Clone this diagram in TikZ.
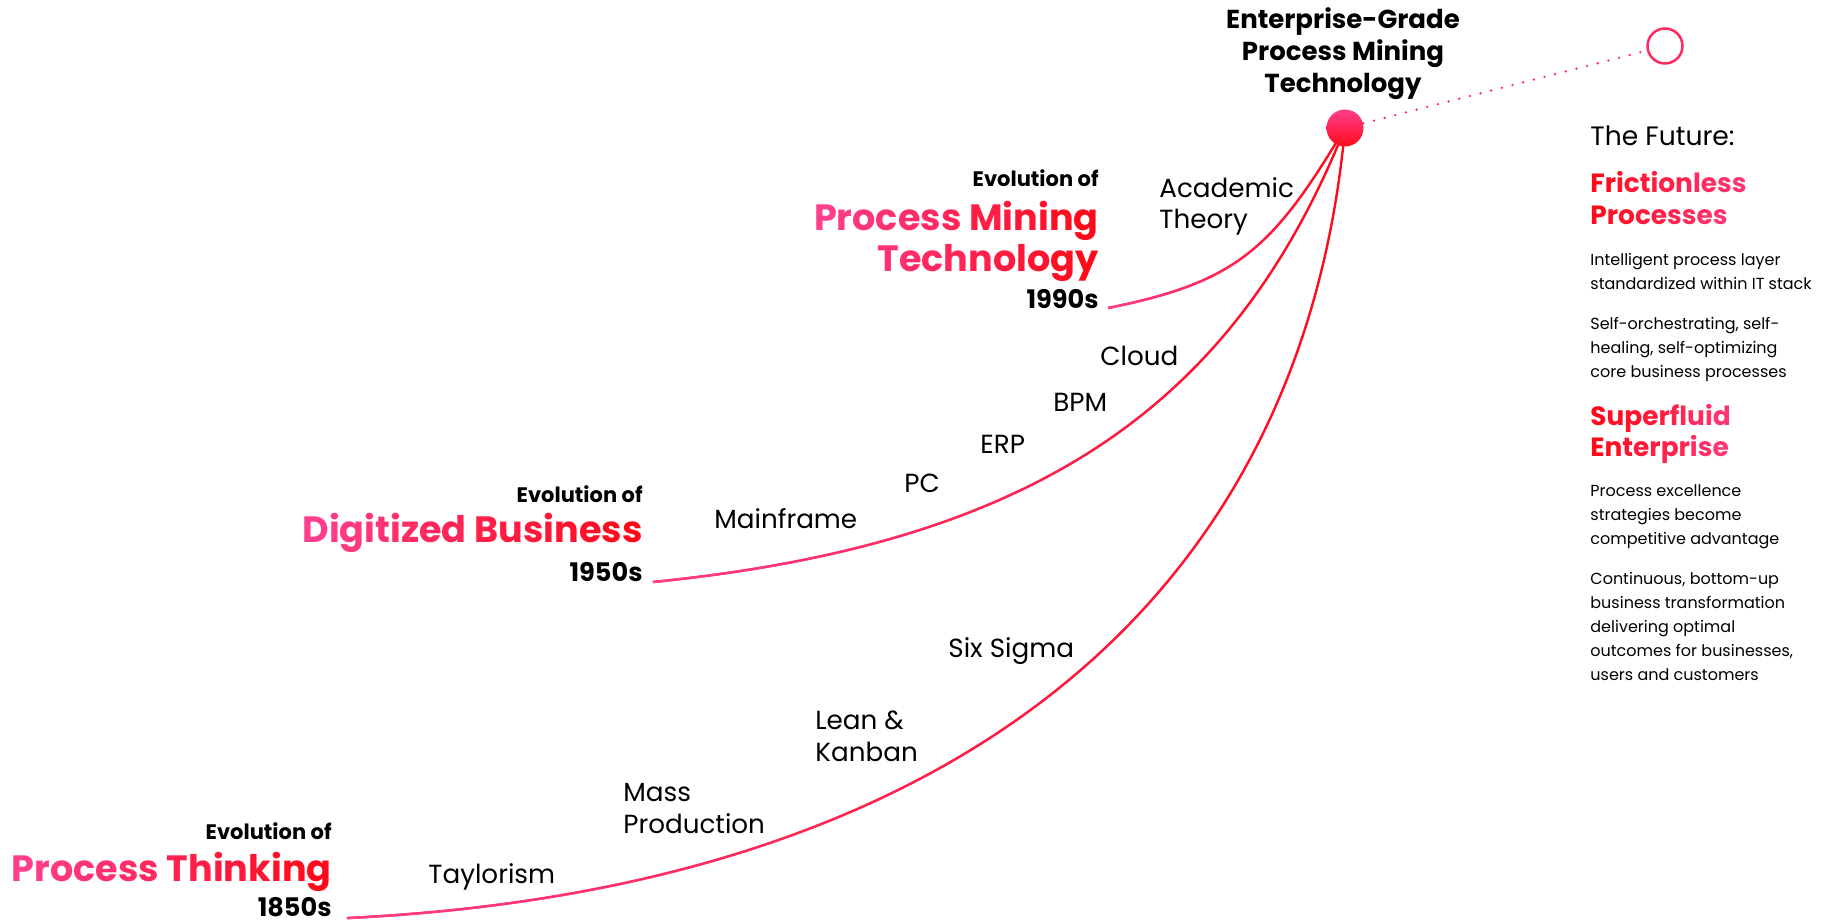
\documentclass[tikz,border=0pt]{standalone}
\usepackage{fontspec}
\setmainfont{Poppins}
\usetikzlibrary{fadings}
\definecolor{pinkA}{HTML}{FF3E8E}
\definecolor{pinkB}{HTML}{FF3572}
\definecolor{redA}{HTML}{FF0A1A}
\definecolor{dotcol}{HTML}{FF2A5E}
\colorlet{techstart}{redA!22!pinkA}
\tikzfading[name=fadeR, left color=transparent!0, right color=transparent!100]
\ExplSyntaxOn
\int_new:N \l_gt_n_int
\int_new:N \l_gt_i_int
\NewDocumentCommand \gradtext { m m m }
  {
    \int_set:Nn \l_gt_n_int { \str_count:n {#3} - 1 }
    \int_compare:nNnT \l_gt_n_int < 1 { \int_set:Nn \l_gt_n_int {1} }
    \int_zero:N \l_gt_i_int
    \str_map_inline:nn {#3}
      {
        \str_if_eq:nnTF {##1} {~}
          { \c_space_tl }
          {
            \exp_args:Ne \color { #2 ! \int_eval:n { 100 * \l_gt_i_int / \l_gt_n_int } ! #1 }
            \relax ##1
          }
        \int_incr:N \l_gt_i_int
      }
  }
\ExplSyntaxOff
\tikzset{
  ev/.style={font=\fontsize{10.5}{12}\selectfont\bfseries, anchor=base east, inner sep=0pt},
  head/.style={font=\fontsize{18.3}{22}\selectfont\bfseries, anchor=base east, inner sep=0pt},
  yr/.style={font=\fontsize{12.8}{15}\selectfont\bfseries, anchor=base east, inner sep=0pt},
  ms/.style={font=\fontsize{13.1}{16}\selectfont, anchor=base west, inner sep=0pt},
  fut/.style={font=\fontsize{13.3}{16}\selectfont, anchor=base west, inner sep=0pt},
  fh/.style={font=\fontsize{13.2}{16}\selectfont\bfseries, anchor=base west, inner sep=0pt},
  sm/.style={font=\fontsize{8}{12}\selectfont, anchor=base west, inner sep=0pt},
  eg/.style={font=\fontsize{13}{16}\selectfont\bfseries, anchor=base, inner sep=0pt},
  curve/.style={line width=1.2pt, redA},
  curvefade/.style={line width=1.2pt, pinkA, path fading=fadeR},
}
\begin{document}
\begin{tikzpicture}[x=0.5pt, y={(0pt,-0.5pt)}]
\fill[white] (0,0) rectangle (1821,924);
\useasboundingbox (0,0) rectangle (1821,924);

% --- 1850s group
\node[ev] (ev1) at (332,839) {Evolution of};
\node[head] (h1) at (332,881) {\gradtext{pinkA}{redA}{Process Thinking}};
\node[yr] (y1) at (332,916) {1850s};
% --- 1950s group
\node[ev] (ev2) at (643,503) {Evolution of};
\node[head] (h2) at (643,543) {\gradtext{pinkA}{redA}{Digitized Business}};
\node[yr] (y2) at (643,582) {1950s};
% --- 1990s group
\node[ev] (ev3) at (1099,187) {Evolution of};
\node[head] (h3a) at (1099,231) {\gradtext{pinkA}{redA}{Process Mining}};
\node[head] (h3b) at (1099,272) {\gradtext{techstart}{redA}{Technology}};
\node[yr] (y3) at (1099,309) {1990s};

% --- milestones
\node[ms] (tay) at (428,883) {Taylorism};
\node[ms] (mass1) at (623,801) {Mass};
\node[ms] (mass2) at (623,833) {Production};
\node[ms] (lean1) at (815,730) {Lean \&};
\node[ms] (lean2) at (815,762) {Kanban};
\node[ms] (six) at (948,658) {Six Sigma};
\node[ms] (mf) at (714,529) {Mainframe};
\node[ms] (pc) at (904,493) {PC};
\node[ms] (erp) at (980,454) {ERP};
\node[ms] (bpm) at (1053,412) {BPM};
\node[ms] (cloud) at (1100,366) {Cloud};
\node[ms] (ac1) at (1159,198) {Academic};
\node[ms] (ac2) at (1159,229) {Theory};

% --- title
\node[eg] (t1) at (1343,29) {Enterprise-Grade};
\node[eg] (t2) at (1343,61) {Process Mining};
\node[eg] (t3) at (1343,93) {Technology};

% --- curves
\coordinate (s1) at (347,918);
\coordinate (s2) at (653,582);
\coordinate (s3) at (1108,308);
\coordinate (dotc) at (1345,128);
\draw[curve] (s1) .. controls (930,890) and (1300,620) .. (dotc);
\draw[curvefade] (s1) .. controls (930,890) and (1300,620) .. (dotc);
\draw[curve] (s2) .. controls (1033,544) and (1233,408) .. (dotc);
\draw[curvefade] (s2) .. controls (1033,544) and (1233,408) .. (dotc);
\draw[curve] (s3) .. controls (1238,282) and (1273,248) .. (dotc);
\draw[curvefade] (s3) .. controls (1238,282) and (1273,248) .. (dotc);

% --- dot and ring
\node[circle, inner sep=0pt, minimum size=18.5pt, top color=pinkA, bottom color=redA, draw=none] (dot) at (dotc) {};
\node[circle, inner sep=0pt, minimum size=17.5pt, draw=dotcol, line width=1.25pt] (ring) at (1665,46) {};
\draw[dotcol, line width=1.3pt, line cap=round, dash pattern=on 0pt off 5.5pt, shorten >=3pt] (dot) -- (ring);

% --- right panel
\node[fut] (fut) at (1590,146) {The Future:};
\node[fh] (fr1) at (1590,193) {\gradtext{redA}{pinkB}{Frictionless}};
\node[fh] (fr2) at (1590,225) {\gradtext{redA}{pinkB}{Processes}};
\node[sm] (p1) at (1590,266) {Intelligent process layer};
\node[sm] (p2) at (1590,290) {standardized within IT stack};
\node[sm] (p3) at (1590,330) {Self-orchestrating, self-};
\node[sm] (p4) at (1590,354) {healing, self-optimizing};
\node[sm] (p5) at (1590,378) {core business processes};
\node[fh] (su1) at (1590,426) {\gradtext{redA}{pinkB}{Superfluid}};
\node[fh] (su2) at (1590,457) {\gradtext{redA}{pinkB}{Enterprise}};
\node[sm] (q1) at (1590,497) {Process excellence};
\node[sm] (q2) at (1590,521) {strategies become};
\node[sm] (q3) at (1590,545) {competitive advantage};
\node[sm] (q4) at (1590,585) {Continuous, bottom-up};
\node[sm] (q5) at (1590,609) {business transformation};
\node[sm] (q6) at (1590,633) {delivering optimal};
\node[sm] (q7) at (1590,657) {outcomes for businesses,};
\node[sm] (q8) at (1590,681) {users and customers};
\end{tikzpicture}
\end{document}
